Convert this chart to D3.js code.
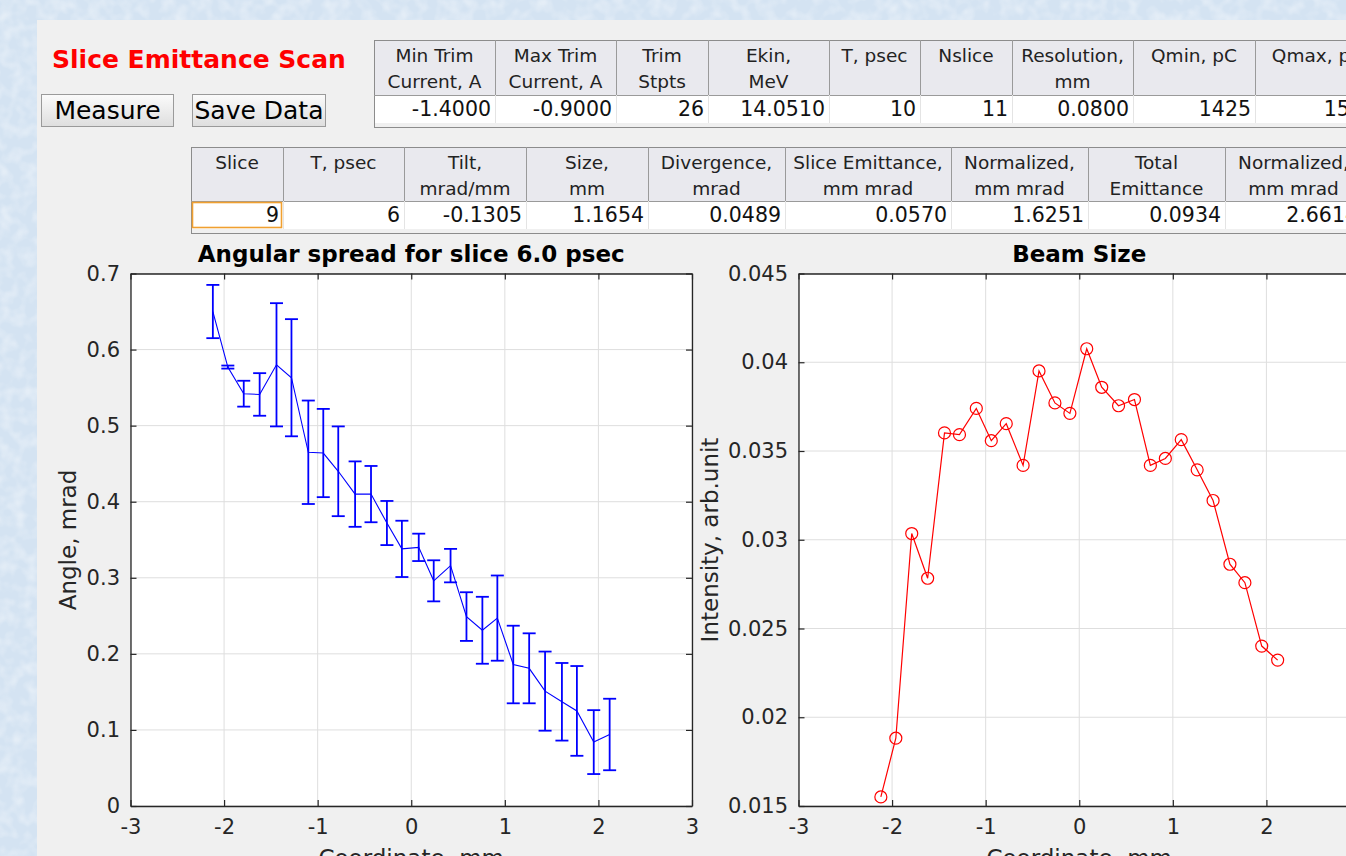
<!DOCTYPE html>
<html lang="en">
<head>
<meta charset="UTF-8">
<title>Slice Emittance Scan</title>
<script src="https://d3js.org/d3.v7.min.js"></script>
<style>
  html, body { margin: 0; padding: 0; overflow: hidden; background: #d7e5f3; }
  svg { display: block; font-family: "DejaVu Sans", sans-serif; }
</style>
</head>
<body>
<svg id="gui" width="1346" height="856"></svg>
<script>
// --- table contents ---
const scanHeaders = [["Min Trim", "Current, A"], ["Max Trim", "Current, A"], ["Trim", "Stpts"],
  ["Ekin,", "MeV"], ["T, psec", ""], ["Nslice", ""], ["Resolution,", "mm"], ["Qmin, pC", ""], ["Qmax, pC", ""]];
const scanValues = ["-1.4000", "-0.9000", "26", "14.0510", "10", "11", "0.0800", "1425", "1575"];

const sliceHeaders = [["Slice", ""], ["T, psec", ""], ["Tilt,", "mrad/mm"], ["Size,", "mm"], ["Divergence,", "mrad"],
  ["Slice Emittance,", "mm mrad"], ["Normalized,", "mm mrad"], ["Total", "Emittance"], ["Normalized,", "mm mrad"]];
const sliceValues = ["9", "6", "-0.1305", "1.1654", "0.0489", "0.0570", "1.6251", "0.0934", "2.6614"];

// --- plot data ---
const coord = [-2.12, -1.96, -1.79, -1.62, -1.44, -1.28, -1.10, -0.94, -0.78, -0.60, -0.43, -0.26, -0.10,
  0.08, 0.24, 0.42, 0.59, 0.76, 0.92, 1.09, 1.26, 1.43, 1.61, 1.77, 1.95, 2.12];
const angle = [0.650, 0.577, 0.542, 0.541, 0.580, 0.563, 0.465, 0.464, 0.440, 0.410, 0.410, 0.372, 0.338,
  0.340, 0.296, 0.316, 0.249, 0.231, 0.247, 0.186, 0.181, 0.151, 0.137, 0.125, 0.084, 0.094];
const angleErr = [0.035, 0.002, 0.017, 0.028, 0.081, 0.077, 0.068, 0.058, 0.059, 0.043, 0.037, 0.029, 0.037,
  0.018, 0.027, 0.022, 0.032, 0.044, 0.056, 0.051, 0.046, 0.052, 0.051, 0.059, 0.042, 0.047];
const intensity = [0.01551, 0.01882, 0.03035, 0.02783, 0.03602, 0.03592, 0.03740, 0.03558, 0.03654, 0.03419,
  0.03951, 0.03771, 0.03712, 0.04076, 0.03859, 0.03755, 0.03790, 0.03419, 0.03458, 0.03564, 0.03394,
  0.03221, 0.02862, 0.02758, 0.02401, 0.02322];

const xTicks = [-3, -2, -1, 0, 1, 2, 3];
const angleTicks = [0, 0.1, 0.2, 0.3, 0.4, 0.5, 0.6, 0.7];
const intensityTicks = [0.015, 0.02, 0.025, 0.03, 0.035, 0.04, 0.045];

const svg = d3.select("#gui");
const axisColor = "#262626";
const tickFont = 21;
const labelFont = 23;

// background texture + panel
const defs = svg.append("defs");
const flt = defs.append("filter").attr("id", "tex");
flt.append("feTurbulence").attr("type", "fractalNoise").attr("baseFrequency", 0.08).attr("numOctaves", 2).attr("seed", 3);
flt.append("feColorMatrix").attr("values", "0 0 0 0 1  0 0 0 0 1  0 0 0 0 1  0 0 0 1.4 -0.55");
svg.append("rect").attr("width", 1346).attr("height", 856).attr("fill", "#d4e3f2");
svg.append("rect").attr("width", 1346).attr("height", 856).attr("filter", "url(#tex)").attr("opacity", 0.6);
svg.append("rect").attr("x", 37).attr("y", 20).attr("width", 1320).attr("height", 850).attr("fill", "#f0f0f0");

// title and buttons
svg.append("text").attr("x", 52).attr("y", 68).attr("fill", "#ff0000")
  .attr("font-size", 25).attr("font-weight", "bold").text("Slice Emittance Scan");

const btnGrad = defs.append("linearGradient").attr("id", "btn").attr("x1", 0).attr("y1", 0).attr("x2", 0).attr("y2", 1);
btnGrad.append("stop").attr("offset", 0).attr("stop-color", "#fbfbfb");
btnGrad.append("stop").attr("offset", 1).attr("stop-color", "#dedede");
[["Measure", 41, 132], ["Save Data", 192, 133]].forEach(([label, x, w]) => {
  svg.append("rect").attr("x", x + 0.5).attr("y", 94.5).attr("width", w).attr("height", 32)
    .attr("fill", "url(#btn)").attr("stroke", "#9a9a9a");
  svg.append("text").attr("x", x + w / 2 + 0.5).attr("y", 119).attr("text-anchor", "middle")
    .attr("font-size", 25).attr("fill", "#000").text(label);
});

// tables
function drawTable(edges, headers, values, top, headH, rowH, selected) {
  const g = svg.append("g");
  const x0 = edges[0], x1 = edges[edges.length - 1];
  g.append("rect").attr("x", x0 + 0.5).attr("y", top + 0.5).attr("width", x1 - x0).attr("height", headH + rowH + 4)
    .attr("fill", "#f0f0f0").attr("stroke", "#8c8c8c");
  g.append("rect").attr("x", x0 + 1).attr("y", top + 1).attr("width", x1 - x0 - 1).attr("height", headH - 1)
    .attr("fill", "#e9e9ee");
  g.append("rect").attr("x", x0 + 1).attr("y", top + headH).attr("width", x1 - x0 - 1).attr("height", rowH)
    .attr("fill", "#ffffff");
  g.append("line").attr("x1", x0).attr("x2", x1).attr("y1", top + headH + 0.5).attr("y2", top + headH + 0.5)
    .attr("stroke", "#9a9a9a");
  headers.forEach((h, i) => {
    const a = edges[i], b = edges[i + 1], cx = (a + b) / 2;
    if (i > 0) {
      g.append("line").attr("x1", a + 0.5).attr("x2", a + 0.5).attr("y1", top).attr("y2", top + headH)
        .attr("stroke", "#9a9a9a");
      g.append("line").attr("x1", a + 0.5).attr("x2", a + 0.5).attr("y1", top + headH).attr("y2", top + headH + rowH)
        .attr("stroke", "#e4e4e4");
    }
    h.forEach((line, k) => {
      g.append("text").attr("x", cx).attr("y", top + 22 + k * 26).attr("text-anchor", "middle")
        .attr("font-size", 18.5).attr("fill", "#222").text(line);
    });
    g.append("text").attr("x", b - 4).attr("y", top + headH + 21).attr("text-anchor", "end")
      .attr("font-size", 20.5).attr("fill", "#111").text(values[i]);
  });
  if (selected !== undefined) {
    g.append("rect").attr("x", edges[selected] + 1.5).attr("y", top + headH + 1.5)
      .attr("width", edges[selected + 1] - edges[selected] - 3).attr("height", rowH - 3)
      .attr("fill", "none").attr("stroke", "#f0a030").attr("stroke-width", 1.6);
  }
}
drawTable([374, 495, 616, 708, 829, 920, 1012, 1133, 1255, 1380], scanHeaders, scanValues, 40, 55, 28);
drawTable([191, 283, 404, 526, 648, 785, 951, 1088, 1225, 1362], sliceHeaders, sliceValues, 147, 54, 28, 0);

// plots
function plotFrame(xRange, yDomain, yTicks, title, yLabel, yLabelX) {
  const x = d3.scaleLinear().domain([-3, 3]).range(xRange);
  const y = d3.scaleLinear().domain(yDomain).range([806, 273.5]);
  const fmt = d => String(+d.toFixed(3));
  const g = svg.append("g");
  g.append("rect").attr("x", xRange[0]).attr("y", 273.5).attr("width", xRange[1] - xRange[0]).attr("height", 532.5)
    .attr("fill", "#ffffff");
  g.append("g").selectAll("line").data(xTicks).join("line")
    .attr("x1", d => x(d)).attr("x2", d => x(d)).attr("y1", 273.5).attr("y2", 806)
    .attr("stroke", "#dedede").attr("stroke-width", 1);
  g.append("g").selectAll("line").data(yTicks).join("line")
    .attr("x1", xRange[0]).attr("x2", xRange[1]).attr("y1", d => y(d)).attr("y2", d => y(d))
    .attr("stroke", "#dedede").attr("stroke-width", 1);

  const style = sel => {
    sel.selectAll("path.domain").attr("stroke", axisColor).attr("stroke-width", 1.3).attr("fill", "none");
    sel.selectAll(".tick line").attr("stroke", axisColor).attr("stroke-width", 1.2);
    sel.selectAll(".tick text").attr("fill", axisColor).attr("font-size", tickFont).attr("font-family", "DejaVu Sans");
  };
  g.append("g").attr("transform", "translate(0,806)")
    .call(d3.axisBottom(x).tickValues(xTicks).tickSize(-6).tickSizeOuter(0).tickPadding(13).tickFormat(fmt))
    .call(style);
  g.append("g").attr("transform", "translate(0,273.5)")
    .call(d3.axisTop(x).tickValues(xTicks).tickSize(-6).tickSizeOuter(0).tickFormat(""))
    .call(style);
  g.append("g").attr("transform", `translate(${xRange[0]},0)`)
    .call(d3.axisLeft(y).tickValues(yTicks).tickSize(-6).tickSizeOuter(0).tickPadding(10.5).tickFormat(fmt))
    .call(style);
  g.append("g").attr("transform", `translate(${xRange[1]},0)`)
    .call(d3.axisRight(y).tickValues(yTicks).tickSize(-6).tickSizeOuter(0).tickFormat(""))
    .call(style);

  const cx = (xRange[0] + xRange[1]) / 2;
  g.append("text").attr("x", cx).attr("y", 262).attr("text-anchor", "middle")
    .attr("font-size", labelFont).attr("font-weight", "bold").attr("fill", "#000").text(title);
  g.append("text").attr("x", cx).attr("y", 866).attr("text-anchor", "middle")
    .attr("font-size", labelFont).attr("fill", axisColor).text("Coordinate, mm");
  g.append("text").attr("transform", `translate(${yLabelX},540) rotate(-90)`).attr("text-anchor", "middle")
    .attr("font-size", labelFont).attr("fill", axisColor).text(yLabel);
  return { g, x, y };
}

// angular spread with error bars
const left = plotFrame([130.5, 692], [0, 0.7], angleTicks,
  "Angular spread for slice 6.0 psec", "Angle, mrad", 76);
const pts = coord.map((c, i) => ({ c, v: angle[i], e: angleErr[i] }));
const eb = left.g.append("g").attr("stroke", "#0000ff").attr("stroke-width", 1.8).attr("fill", "none");
pts.forEach(p => {
  const px = left.x(p.c), y1 = left.y(p.v + p.e), y2 = left.y(p.v - p.e);
  eb.append("line").attr("x1", px).attr("x2", px).attr("y1", y1).attr("y2", y2);
  eb.append("line").attr("x1", px - 6.5).attr("x2", px + 6.5).attr("y1", y1).attr("y2", y1);
  eb.append("line").attr("x1", px - 6.5).attr("x2", px + 6.5).attr("y1", y2).attr("y2", y2);
});
left.g.append("path").datum(pts)
  .attr("d", d3.line().x(d => left.x(d.c)).y(d => left.y(d.v)))
  .attr("fill", "none").attr("stroke", "#0000ff").attr("stroke-width", 1.1);

// beam size profile
const right = plotFrame([798.5, 1360], [0.015, 0.045], intensityTicks,
  "Beam Size", "Intensity, arb.unit", 718);
const prof = coord.map((c, i) => ({ c, v: intensity[i] }));
right.g.append("path").datum(prof)
  .attr("d", d3.line().x(d => right.x(d.c)).y(d => right.y(d.v)))
  .attr("fill", "none").attr("stroke", "#ff0000").attr("stroke-width", 1.2);
right.g.append("g").selectAll("circle").data(prof).join("circle")
  .attr("cx", d => right.x(d.c)).attr("cy", d => right.y(d.v)).attr("r", 6)
  .attr("fill", "none").attr("stroke", "#ff0000").attr("stroke-width", 1.2);
</script>
</body>
</html>
